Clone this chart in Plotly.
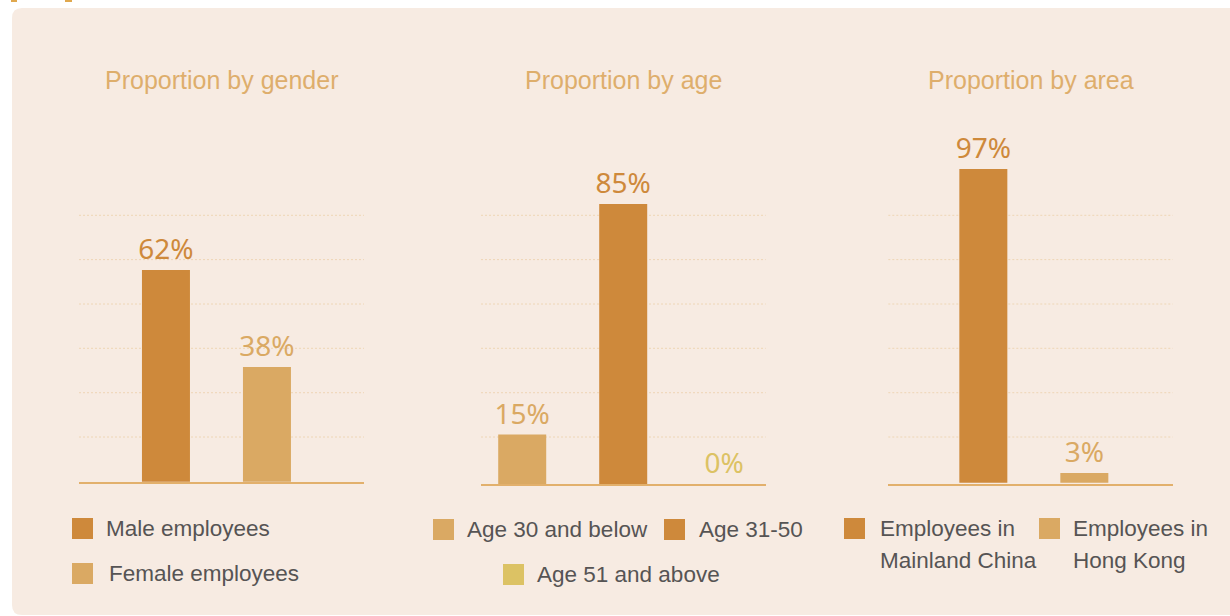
import plotly.graph_objects as go

# ---------------- data ----------------
titles = ["Proportion by gender", "Proportion by age", "Proportion by area"]

gender_cats = ["Male employees", "Female employees"]
gender_vals = [62, 38]

age_cats = ["Age 30 and below", "Age 31-50", "Age 51 and above"]
age_vals = [15, 85, 0]

area_cats = ["Employees in Mainland China", "Employees in Hong Kong"]
area_vals = [97, 3]
area_legend_labels = ["Employees in<br>Mainland China", "Employees in<br>Hong Kong"]

# ---------------- styles ----------------
W, H = 1230, 616
DARK = "#CE893B"
LIGHT = "#DAA963"
YELLOW = "#DCC264"
TITLE_C = "#DEAE6C"
BASE_C = "#E2B06C"
GRID_C = "#EED6B6"
PANEL_C = "#F7EBE2"
LEG_TXT = "#565454"

gender_colors = [DARK, LIGHT]
age_colors = [LIGHT, DARK, YELLOW]
area_colors = [DARK, LIGHT]


def px(x):
    return x / W


def py(y):
    return 1 - y / H


# per chart layout (pixels): left, right, baseline, top, axis start, px per unit, x-range start
charts = [
    dict(cats=gender_cats, vals=gender_vals, colors=gender_colors, legend=gender_cats,
         left=79, right=364, base=481.7, top=130, r0=9.62, s=4.042, xlo=-0.861, title_x=221.5,
         leg=[(72, 518, 104), (72, 563, 107)]),
    dict(cats=age_cats, vals=age_vals, colors=age_colors, legend=age_cats,
         left=481, right=765.7, base=484.0, top=130, r0=0.0, s=3.295, xlo=-0.408, title_x=623,
         leg=[(433, 519, 465), (664, 519, 696.5), (503, 564, 535)]),
    dict(cats=area_cats, vals=area_vals, colors=area_colors, legend=area_legend_labels,
         left=888.3, right=1172.7, base=484.3, top=130, r0=-0.5, s=3.234, xlo=-0.941, title_x=1030.5,
         leg=[(844, 518, 877.5), (1039, 518, 1071)]),
]

SLOT = 101.0  # pixels per category
LINE_GAP = 31.5  # legend line spacing in pixels
grid_ys = [215.3, 259.6, 304.0, 348.3, 392.7, 437.0]

fig = go.Figure()
shapes = []
annotations = []

# rounded background panel
r = 10
x0, x1, yt, yb = 12, 1240, 8, 615
path = (f"M {px(x0 + r)},{py(yt)} L {px(x1)},{py(yt)} L {px(x1)},{py(yb)} "
        f"L {px(x0 + r)},{py(yb)} Q {px(x0)},{py(yb)} {px(x0)},{py(yb - r)} "
        f"L {px(x0)},{py(yt + r)} Q {px(x0)},{py(yt)} {px(x0 + r)},{py(yt)} Z")
shapes.append(dict(type="path", path=path, xref="paper", yref="paper",
                   fillcolor=PANEL_C, line=dict(width=0), layer="below"))
# small cropped marks at the very top-left
for a, b in [(11, 17), (65, 72)]:
    shapes.append(dict(type="rect", xref="paper", yref="paper", x0=px(a), x1=px(b),
                       y0=py(2), y1=py(0), fillcolor="#E0A84E", line=dict(width=0), layer="below"))

layout_axes = {}
for i, c in enumerate(charts, start=1):
    sfx = "" if i == 1 else str(i)
    xname, yname = f"x{sfx}", f"y{sfx}"
    fig.add_trace(go.Bar(
        x=c["cats"], y=c["vals"], xaxis=xname, yaxis=yname,
        marker=dict(color=c["colors"], line=dict(width=0)),
        width=48 / SLOT,
        text=[f"{v}%" for v in c["vals"]],
        textposition="outside",
        textfont=dict(family="Noto Sans", size=28, color=c["colors"]),
        cliponaxis=False, constraintext="none",
        showlegend=False, hoverinfo="skip",
    ))
    width_px = c["right"] - c["left"]
    layout_axes[f"xaxis{sfx}"] = dict(
        domain=[px(c["left"]), px(c["right"])], anchor=yname, type="category",
        range=[c["xlo"], c["xlo"] + width_px / SLOT],
        showgrid=False, zeroline=False, showticklabels=False, ticks="",
        showline=True, linecolor=BASE_C, linewidth=2, fixedrange=True,
    )
    layout_axes[f"yaxis{sfx}"] = dict(
        domain=[py(c["base"]), py(c["top"])], anchor=xname,
        range=[c["r0"], c["r0"] + (c["base"] - c["top"]) / c["s"]],
        showgrid=False, zeroline=False, showticklabels=False, ticks="",
        showline=False, fixedrange=True,
    )
    # dotted gridlines
    for gy in grid_ys:
        shapes.append(dict(type="line", xref=f"{xname} domain", yref="paper",
                           x0=0, x1=1, y0=py(gy), y1=py(gy),
                           line=dict(color=GRID_C, width=1, dash="2px,2px"), layer="below"))
    # title
    annotations.append(dict(text=titles[i - 1], x=px(c["title_x"]), y=py(80),
                            xref="paper", yref="paper", xanchor="center", yanchor="middle",
                            showarrow=False,
                            font=dict(family="Liberation Sans", size=25, color=TITLE_C)))
    # custom legend
    for (sx, sy, tx), lab, col in zip(c["leg"], c["legend"], c["colors"]):
        shapes.append(dict(type="rect", xref="paper", yref="paper",
                           x0=px(sx), x1=px(sx + 21), y0=py(sy + 21), y1=py(sy),
                           fillcolor=col, line=dict(width=0)))
        for k, line in enumerate(lab.split("<br>")):
            annotations.append(dict(text=line, x=px(tx), y=py(sy + 10.5 + k * LINE_GAP),
                                    xref="paper", yref="paper", xanchor="left",
                                    yanchor="middle", align="left", showarrow=False,
                                    font=dict(family="Liberation Sans", size=22.5, color=LEG_TXT)))

fig.update_layout(
    width=W, height=H, margin=dict(l=0, r=0, t=0, b=0),
    paper_bgcolor="white", plot_bgcolor="rgba(0,0,0,0)",
    shapes=shapes, annotations=annotations, showlegend=False,
    **layout_axes,
)

fig.write_html("out.html")
